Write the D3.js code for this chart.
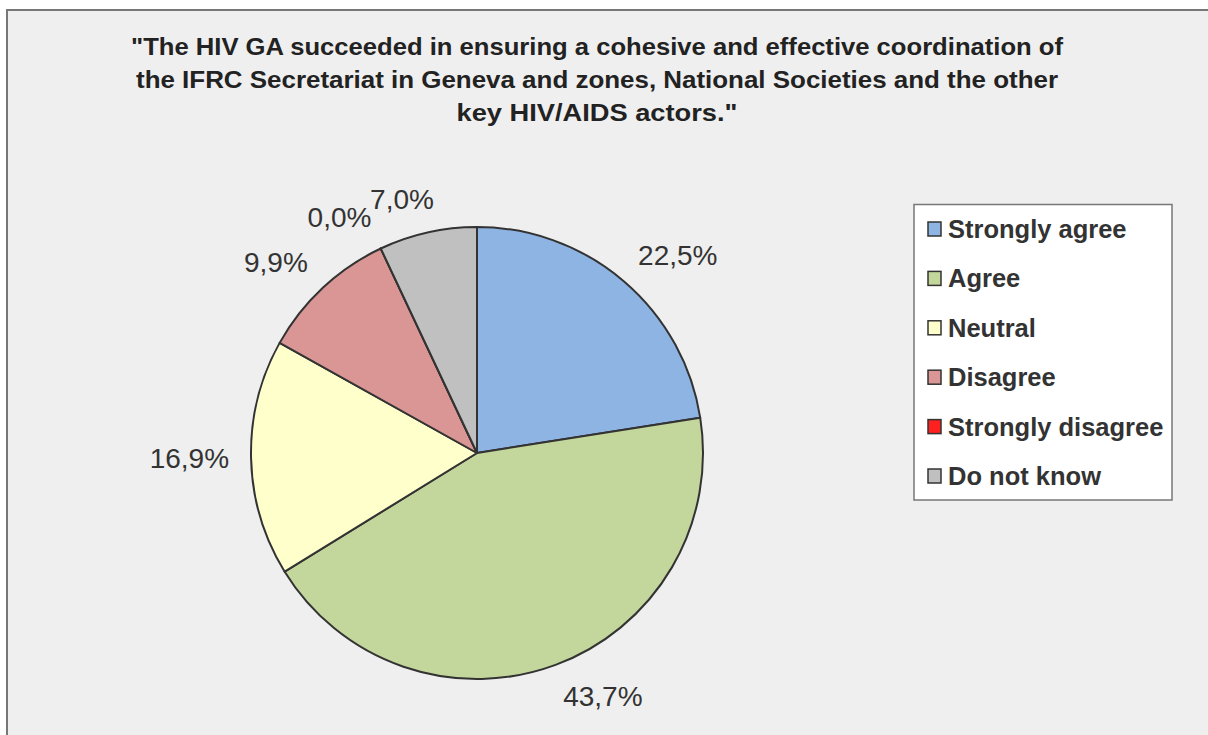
<!DOCTYPE html>
<html><head><meta charset="utf-8">
<script src="https://cdn.jsdelivr.net/npm/d3@7"></script>
<style>body{margin:0;background:#fff;}svg{display:block;font-family:"Liberation Sans",Arial,sans-serif;}</style>
</head><body><svg id="c" width="1208" height="735"></svg>
<script>
const categories = ["Strongly agree","Agree","Neutral","Disagree","Strongly disagree","Do not know"];
const values = [22.5, 43.7, 16.9, 9.9, 0.0, 7.0];
const colors = ["#8eb4e3","#c3d69b","#ffffcc","#d99694","#ff2020","#c0c0c0"];
const titleLines = ["\"The HIV GA succeeded in ensuring a cohesive and effective coordination of","the IFRC Secretariat in Geneva and zones, National Societies and the other","key HIV/AIDS actors.\""];
const titleWidths = [932, 922, 281];

const svg = d3.select("#c");
svg.append("rect").attr("x",7).attr("y",10).attr("width",1210).attr("height",740)
  .attr("fill","#efefef").attr("stroke","#777").attr("stroke-width",2);

// title
svg.append("g").selectAll("text").data(titleLines).join("text")
  .attr("x",597).attr("y",(d,i)=>55+i*33).attr("text-anchor","middle")
  .attr("font-size",24).attr("font-weight","bold").attr("fill","#222")
  .attr("textLength",(d,i)=>titleWidths[i]).attr("lengthAdjust","spacingAndGlyphs")
  .text(d=>d);

const cx=477, cy=453, r=226;
const pie = d3.pie().sort(null).value(d=>d)(values);
const arc = d3.arc().innerRadius(0).outerRadius(r);
const g = svg.append("g").attr("transform",`translate(${cx},${cy})`);
g.selectAll("path").data(pie).join("path").attr("d",arc)
  .attr("fill",(d,i)=>colors[i]).attr("stroke","#333").attr("stroke-width",2).attr("stroke-linejoin","round");

const fmt = v => d3.format(".1f")(v).replace(".",",")+"%";
const labels = g.selectAll("text").data(pie).join("text")
  .attr("font-size",28).attr("fill","#333").attr("text-anchor","middle").attr("dominant-baseline","central")
  .text(d=>fmt(d.data));
labels.each(function(d){
  const a=(d.startAngle+d.endAngle)/2;
  const w=this.getComputedTextLength();
  const R=r+22;
  const sx=Math.sign(Math.sin(a))*Math.min(1,Math.abs(Math.sin(a))*3);
  const x=R*Math.sin(a)+ (w/2)*sx;
  const y=-R*Math.cos(a)- 12*Math.cos(a);
  d3.select(this).attr("x",x).attr("y",y);
});

// legend
const lg = svg.append("g");
lg.append("rect").attr("x",914).attr("y",204.5).attr("width",258).attr("height",295.5)
  .attr("fill","#fff").attr("stroke","#777").attr("stroke-width",1.5);
const items = lg.selectAll("g.it").data(categories).join("g").attr("class","it")
  .attr("transform",(d,i)=>`translate(928,${229+i*49.4})`);
items.append("rect").attr("x",0).attr("y",-7).attr("width",13).attr("height",14)
  .attr("fill",(d,i)=>colors[i]).attr("stroke","#333").attr("stroke-width",1.5);
items.append("text").attr("x",20).attr("y",0).attr("dominant-baseline","central")
  .attr("font-size",25.5).attr("font-weight","bold").attr("fill","#333").text(d=>d);
</script></body></html>
